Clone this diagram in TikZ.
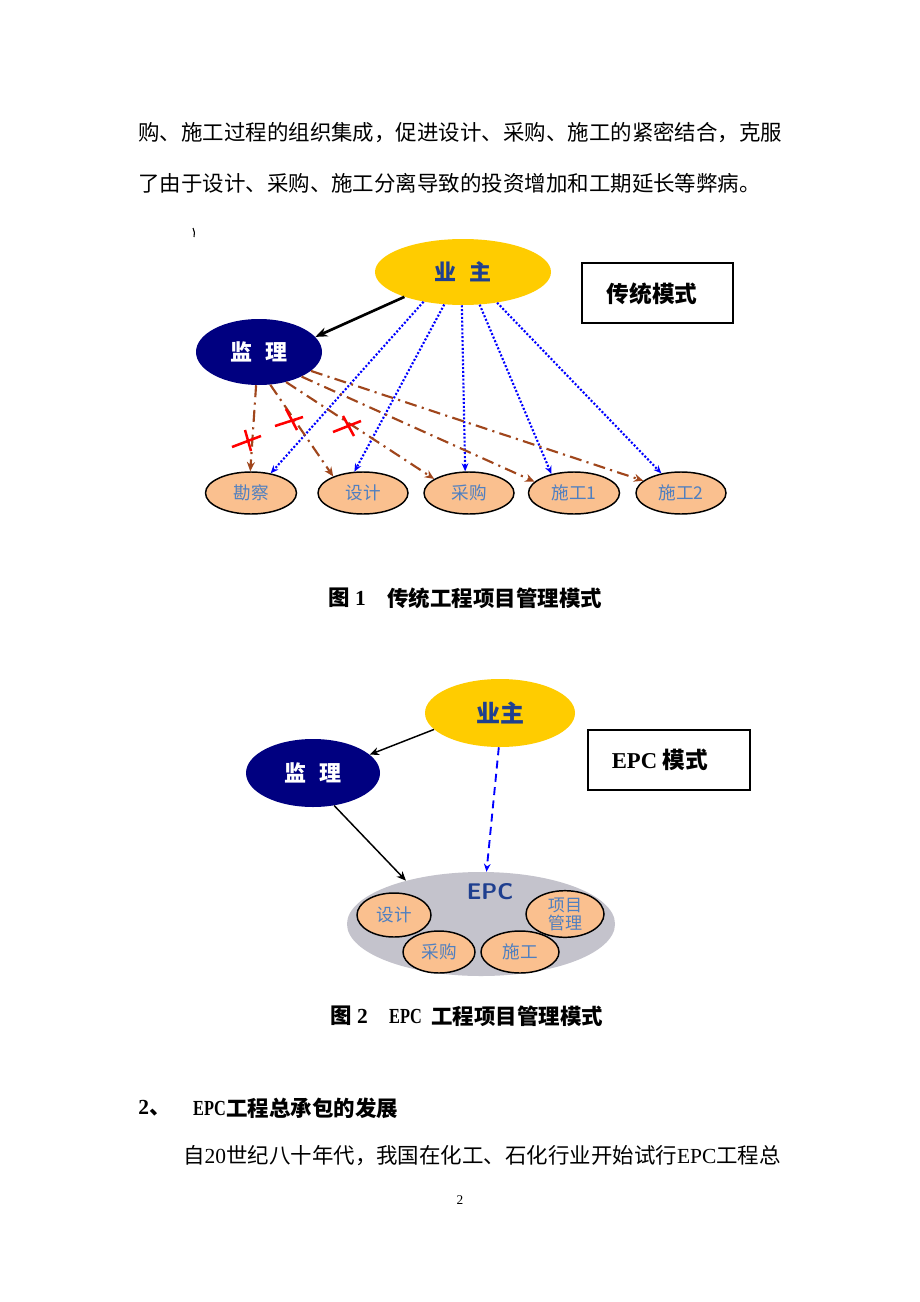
\documentclass[tikz,border=0pt]{standalone}
\usepackage{fontspec}
\setmainfont{Liberation Serif}
\newfontfamily\cjk{Noto Sans CJK SC}
\usetikzlibrary{shapes.geometric,arrows.meta}
\definecolor{gold}{HTML}{FFCC00}
\definecolor{navy}{HTML}{000080}
\definecolor{peach}{HTML}{FAC08F}
\definecolor{epcgray}{HTML}{C4C3CC}
\definecolor{lbl}{HTML}{4F7FC0}
\definecolor{dkblue}{HTML}{1F3F8F}
\definecolor{brown}{HTML}{A0461C}
\tikzset{
  ell/.style 2 args={ellipse, minimum width=#1*0.75pt, minimum height=#2*0.75pt, inner sep=0pt},
  owner/.style={fill=gold, draw=none, text=dkblue, font=\cjk\bfseries\fontsize{16.5}{18}\selectfont},
  super/.style={fill=navy, draw=none, text=white, font=\cjk\bfseries\fontsize{16.5}{18}\selectfont},
  part/.style={fill=peach, draw=black, line width=1.1pt, text=lbl, font=\cjk\fontsize{13.2}{14}\selectfont},
  body/.style={anchor=west, inner sep=0pt, font=\fontsize{16.1}{18}\selectfont},
  bodyb/.style={anchor=west, inner sep=0pt, font=\bfseries\fontsize{16.1}{18}\selectfont},
  narrow/.style={transform shape, xscale=0.76},
  modebox/.style={draw=black, line width=0.8pt, inner sep=0pt},
  blk/.style={draw=black, line width=2pt, -{Stealth[length=9pt,width=7pt]}},
  blkthin/.style={draw=black, line width=1.1pt, -{Stealth[length=7pt,width=6pt]}},
  bluedot/.style={draw=blue, line width=1.6pt, dash pattern=on 1.5pt off 1.4pt, -{Stealth[length=6pt,width=5pt]}},
  browndd/.style={draw=brown, line width=1.6pt, dash pattern=on 9pt off 4pt on 1.6pt off 4pt, -{Stealth[length=7pt,width=6pt]}},
  bluedash/.style={draw=blue, line width=1.4pt, dash pattern=on 6pt off 4pt, -{Stealth[length=6pt,width=5pt]}},
  cross/.style={draw=red, line width=1.9pt},
}
\begin{document}
\begin{tikzpicture}[x=0.75pt,y=-0.75pt]
\fill[white] (0,0) rectangle (920,1302);
\useasboundingbox (0,0) rectangle (920,1302);

% body text
\node[body] (t1) at (138,133) {\cjk 购、施工过程的组织集成，促进设计、采购、施工的紧密结合，克服};
\node[body] (t2) at (138,183) {\cjk 了由于设计、采购、施工分离导致的投资增加和工期延长等弊病。};
\draw[line width=0.8pt] (193,228) to[bend left=20] (194,237);

% ---------- diagram 1 ----------
\node[ell={176}{66}, owner] (yz1) at (463,272) {业\hspace{0.6em}主};
\node[modebox, minimum width=151*0.75pt, minimum height=60*0.75pt] (box1) at (657.5,293) {};
\node[font=\cjk\bfseries\fontsize{17}{18}\selectfont] (box1t) at (652,294) {传统模式};
\node[ell={126}{66}, super] (jl1) at (259,352) {监\hspace{0.6em}理};
\node[ell={91}{42}, part] (kc) at (251,493) {勘察};
\node[ell={90}{42}, part] (sj) at (363,493) {设计};
\node[ell={90}{42}, part] (cg) at (469,493) {采购};
\node[ell={91}{42}, part] (sg1) at (574,493) {施工1};
\node[ell={90}{42}, part] (sg2) at (681,493) {施工2};

\draw[blk] (yz1.203) -- (jl1.15);
\draw[bluedot] (yz1.217) -- (kc.45);
\draw[bluedot] (yz1.240) -- (sj.112);
\draw[bluedot] (yz1.268) -- (cg.100);
\draw[bluedot] (yz1.297) -- (sg1.140);
\draw[bluedot] (yz1.318) -- (sg2.135);

\draw[browndd] (jl1.265) -- (kc.92);
\draw[browndd] (jl1.289) -- (sj.151);
\draw[browndd] (jl1.312) -- (cg.158);
\draw[browndd] (jl1.330) -- (sg1.164);
\draw[browndd] (jl1.340) -- (sg2.162);

\draw[cross] (232,447) -- (261,436);
\draw[cross] (245,430) -- (251,451);
\draw[cross] (275,426) -- (303,417);
\draw[cross] (286,409) -- (297,430);
\draw[cross] (333,432) -- (361,421);
\draw[cross] (343,416) -- (354,436);

\node[bodyb] (c1a) at (328,598) {{\cjk 图} 1};
\node[bodyb] (c1b) at (387,598) {\cjk 传统工程项目管理模式};

% ---------- diagram 2 ----------
\node[ell={150}{68}, owner, font=\cjk\bfseries\fontsize{18}{20}\selectfont] (yz2) at (500,713) {业主};
\node[modebox, minimum width=162*0.75pt, minimum height=60*0.75pt] (box2) at (669,760) {};
\node[font=\fontsize{17}{18}\selectfont\bfseries] (box2t) at (660,760) {EPC {\cjk 模式}};
\node[ell={134}{68}, super] (jl2) at (313,773) {监\hspace{0.6em}理};
\node[ell={268}{104}, fill=epcgray, draw=none] (epc) at (481,924) {};
\node[text=dkblue, font=\sffamily\bfseries\fontsize{17}{18}\selectfont, inner sep=0pt] (epct) at (490,892) {EPC};
\node[ell={74}{44}, part] (sj2) at (394,915) {设计};
\node[ell={72}{42}, part] (cg2) at (439,952) {采购};
\node[ell={78}{42}, part] (sg2b) at (520,952) {施工};
\node[ell={78}{44}, part, align=center, font=\cjk\fontsize{12.8}{13.5}\selectfont] (xm) at (565,914) {项目\\管理};

\draw[blkthin] (yz2.194) -- (jl2.18);
\draw[blkthin] (jl2.303) -- (epc.150);
\draw[bluedash] (yz2.268) -- (epc.84);

\node[bodyb] (c2a) at (330,1016) {{\cjk 图} 2};
\node[bodyb, narrow] (c2b) at (389,1016) {EPC};
\node[bodyb] (c2c) at (431,1016) {\cjk 工程项目管理模式};

% ---------- following text ----------
\node[bodyb] (h1) at (138,1108) {2\cjk 、};
\node[bodyb, narrow] (h2a) at (193,1108) {EPC};
\node[bodyb] (h2b) at (226,1108) {\cjk 工程总承包的发展};
\node[body] (t3) at (183,1156) {{\cjk 自}20{\cjk 世纪八十年代，我国在化工、石化行业开始试行}EPC{\cjk 工程总}};
\node[font=\fontsize{10}{12}\selectfont] (pg) at (460,1200) {2};
\end{tikzpicture}
\end{document}
